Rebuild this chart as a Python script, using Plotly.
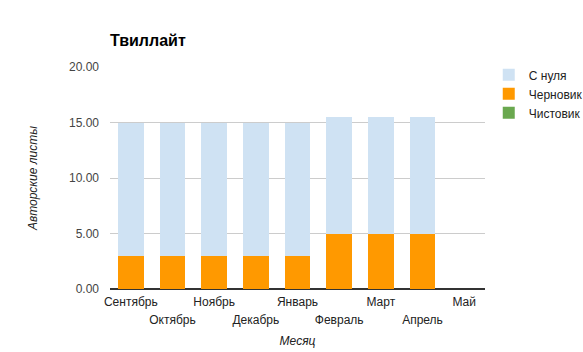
import plotly.graph_objects as go

months = ["Сентябрь", "Октябрь", "Ноябрь", "Декабрь", "Январь", "Февраль", "Март", "Апрель", "Май"]
s_nulya = [12, 12, 12, 12, 12, 10.5, 10.5, 10.5, 0]
chernovik = [3, 3, 3, 3, 3, 5, 5, 5, 0]
chistovik = [0, 0, 0, 0, 0, 0, 0, 0, 0]
y_ticks = [0, 5, 10, 15, 20]

font_family = "Liberation Sans, Arial, sans-serif"

fig = go.Figure()
fig.add_trace(go.Bar(x=months, y=chernovik, name="Черновик", marker=dict(color="#ff9900", line=dict(width=0)), legendrank=2))
fig.add_trace(go.Bar(x=months, y=chistovik, name="Чистовик", marker=dict(color="#6aa84f", line=dict(width=0)),
                     legendrank=3, xaxis="x2", yaxis="y"))
fig.add_trace(go.Bar(x=months, y=s_nulya, name="С нуля", marker=dict(color="#cfe2f3", line=dict(width=0)), legendrank=1))

xrange = [-0.5, len(months) - 0.5]

fig.update_layout(
    width=583, height=352,
    barmode="stack",
    bargap=0.38,
    plot_bgcolor="white", paper_bgcolor="white",
    margin=dict(l=110, r=98, t=67, b=63, autoexpand=False),
    font=dict(family=font_family, size=12, color="#444444"),
    title=dict(text="<b>Твиллайт</b>", x=110/583, xanchor="left", y=1 - 40/352, yanchor="middle",
               font=dict(family=font_family, size=16, color="#000000")),
    legend=dict(x=1.01, xanchor="left", y=1.03, yanchor="top", traceorder="normal",
                font=dict(family=font_family, size=12, color="#222222"), itemwidth=30,
                tracegroupgap=0),
    xaxis=dict(type="category", categoryarray=months, range=xrange,
               tickmode="array", tickvals=months[0::2], showgrid=False, ticks="",
               tickangle=0, automargin=False, ticklabelstandoff=4,
               tickfont=dict(size=12, color="#222222"), showline=False),
    xaxis2=dict(type="category", categoryarray=months, range=xrange, overlaying="x", anchor="y", side="bottom",
                tickmode="array", tickvals=months[1::2], showgrid=False, zeroline=False, ticks="",
                tickangle=0, automargin=False, ticklabelstandoff=22,
                title=dict(text="<i>Месяц</i>", standoff=10, font=dict(size=12, color="#222222")),
                tickfont=dict(size=12, color="#222222"), showline=False),
    yaxis=dict(range=[0, 20], tickvals=y_ticks, tickformat=".2f", gridcolor="#cccccc", zeroline=True,
               zerolinecolor="#333333", zerolinewidth=1.5, ticks="", tickfont=dict(color="#444444"),
               automargin=False, ticklabelstandoff=10,
               title=dict(text="<i>Авторские листы</i>", standoff=28, font=dict(size=12, color="#222222"))),
)

fig.write_html("out.html")
